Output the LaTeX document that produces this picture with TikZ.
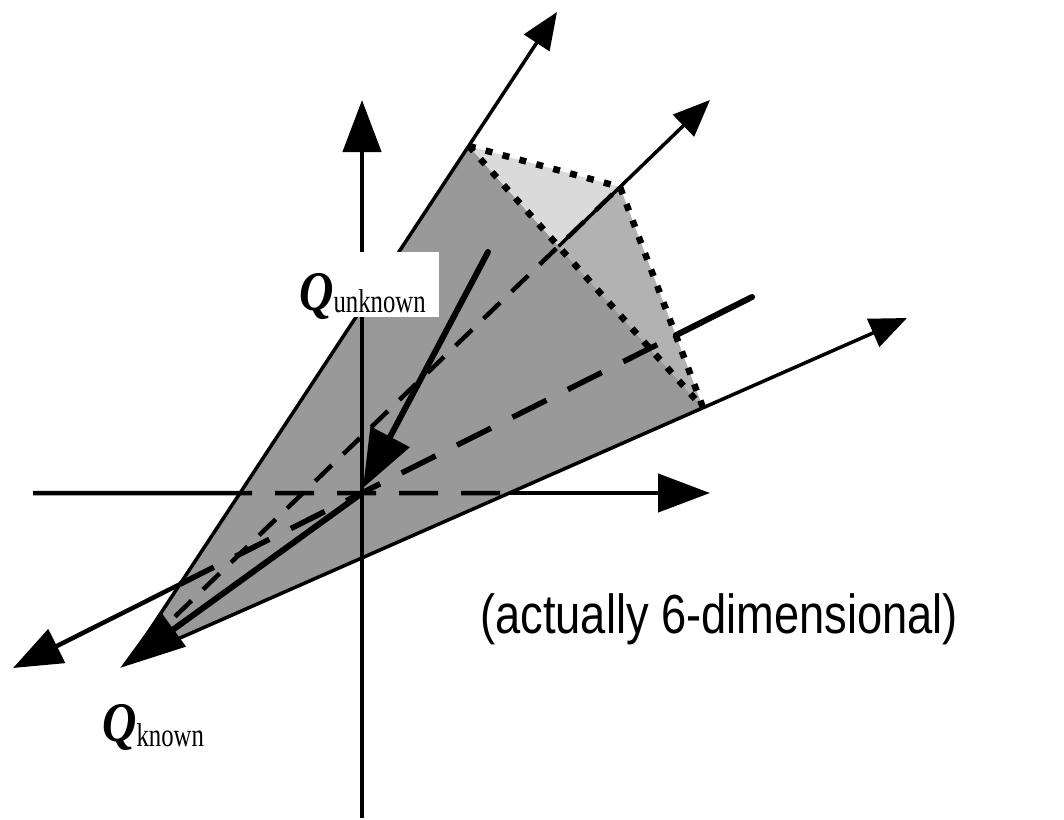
\documentclass[tikz,border=0pt]{standalone}
\usepackage{fontspec}
\setmainfont{Liberation Serif}
\newfontfamily\arialf{Liberation Sans}
\usetikzlibrary{arrows.meta,calc}
\definecolor{darkg}{gray}{0.6}
\definecolor{midg}{gray}{0.70}
\definecolor{lightg}{gray}{0.855}
\newcommand{\qlabel}[2]{\scalebox{0.85}[1]{\fontsize{56}{56}\selectfont\textbf{\textit{Q}}}\raisebox{#1}{\scalebox{0.75}[1]{\fontsize{33}{33}\selectfont #2}}}
\begin{document}
\begin{tikzpicture}[x=1pt,y=-1pt,
  axisline/.style={line width=4.5pt},
  bigtip/.style={-{Triangle[length=52pt,width=38pt]}},
  thinline/.style={line width=3.5pt},
  smalltip/.style={-{Triangle[length=37pt,width=30pt]}},
  dotline/.style={line width=6.5pt, dash pattern=on 7pt off 10.5pt},
  longdash/.style={line width=5.5pt, dash pattern=on 38pt off 24pt},
  shortdash/.style={line width=4.5pt, dash pattern=on 23pt off 16pt},
  qarrow/.style={line width=6pt, line cap=round},
  lbl/.style={anchor=base west, inner sep=0pt}
]
\useasboundingbox (0,0) rectangle (1064,819);
% key points
\coordinate (A) at (130,660);
\coordinate (TL) at (557,12);
\coordinate (M) at (710,100);
\coordinate (RT) at (907,318);
\coordinate (T) at ($(A)!0.7932!(TL)$);
\coordinate (V) at ($(A)!0.8448!(M)$);
\coordinate (R) at ($(A)!0.7375!(RT)$);
\coordinate (P) at (intersection of T--R and A--M);
\coordinate (O) at (362,493);
\coordinate (VB) at (362,818);
\coordinate (VT) at (362,100);
\coordinate (HL) at (33,493);
\coordinate (HR) at (710,493);
\coordinate (H1) at (intersection of HL--HR and A--TL);
\coordinate (H2) at (intersection of HL--HR and A--RT);
\coordinate (L) at (13,668);
\coordinate (E) at (752,297);
\coordinate (B1) at (intersection of L--E and A--TL);
\coordinate (B2) at (intersection of L--E and V--R);
\coordinate (QU) at (488,252);
\coordinate (QUT) at (363,488);
\coordinate (QKT) at (120,668);
% cone faces
\fill[darkg] (A) -- (T) -- (R) -- cycle;
\fill[lightg] (T) -- (V) -- (P) -- cycle;
\fill[midg] (P) -- (V) -- (R) -- cycle;
% dotted edges
\draw[dotline] (T) -- (V) -- (R);
\draw[dotline] (T) -- (R);
% axes
\draw[axisline, bigtip] (VB) -- (VT);
\draw[axisline] (HL) -- (H1);
\draw[axisline, dash pattern=on 39pt off 23pt, dash phase=27pt] (H1) -- (H2);
\draw[axisline, bigtip] (H2) -- (HR);
% long dashed line through origin
\draw[line width=4.5pt, -{Triangle[length=49pt,width=37pt]}] (B1) -- (L);
\draw[longdash] (B1) -- (B2);
\draw[line width=6pt, line cap=round] (B2) -- (E);
% middle ray
\draw[shortdash, dash phase=15.5pt] (A) -- (V);
\draw[thinline, smalltip] (P) -- (M);
% cone edges
\draw[thinline, smalltip] (A) -- (TL);
\draw[thinline, smalltip] (A) -- (RT);
% label box
\node[fill=white, inner sep=0pt, minimum width=151pt, minimum height=65pt] (qubox) at (363.5,284.5) {};
\node[lbl] (qu) at (299,310) {\qlabel{-2pt}{unknown}};
\node[lbl] (qk) at (102,741) {\qlabel{-5pt}{known}};
\node[lbl] (act) at (480,633) {\scalebox{0.823}[1]{\fontsize{55}{55}\selectfont\arialf (actually 6-dimensional)}};
% Q arrows
\draw[qarrow, -{Triangle[length=58pt,width=43pt]}] (QU) -- (QUT);
\draw[qarrow, -{Triangle[length=66pt,width=41pt]}] (O) -- (QKT);
\end{tikzpicture}
\end{document}
